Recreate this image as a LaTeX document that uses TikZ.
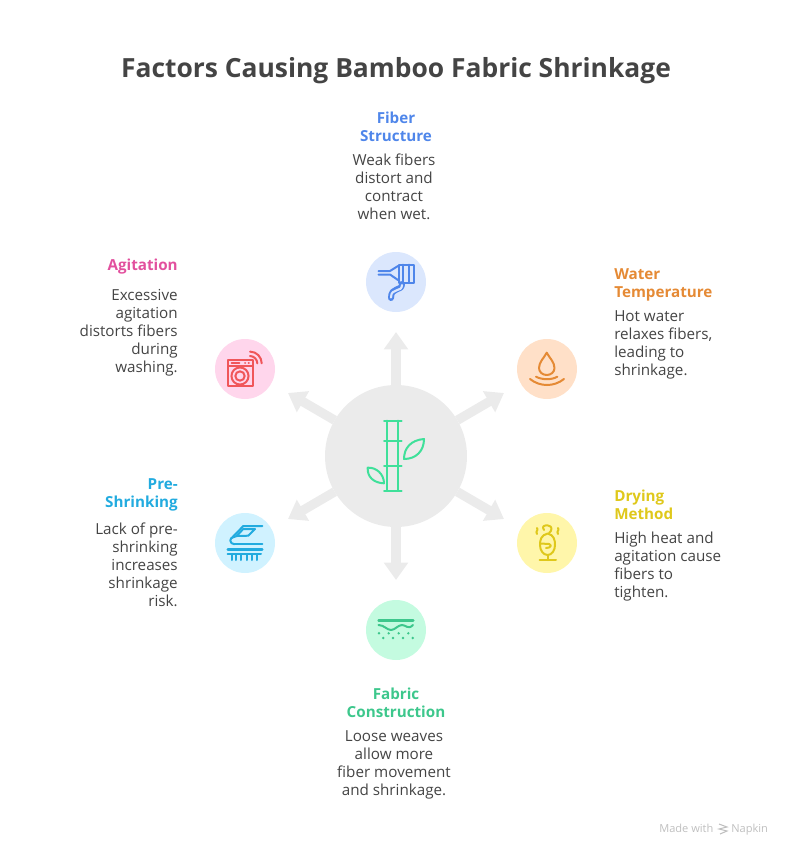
\documentclass[tikz,border=0pt]{standalone}
\usepackage{fontspec}
\setmainfont{Open Sans}
\usetikzlibrary{arrows.meta}
\definecolor{hubgray}{HTML}{EBEBEB}
\definecolor{inkdark}{HTML}{444444}
\definecolor{blueink}{HTML}{4F86EA}
\definecolor{bluefill}{HTML}{DBE7FD}
\definecolor{redink}{HTML}{F0565A}
\definecolor{pinkink}{HTML}{E2509E}
\definecolor{pinkfill}{HTML}{FFD6EC}
\definecolor{orangeink}{HTML}{E58A35}
\definecolor{orangefill}{HTML}{FFE0C8}
\definecolor{cyanink}{HTML}{22ABDF}
\definecolor{cyanfill}{HTML}{D0F2FF}
\definecolor{yellowink}{HTML}{DFC81B}
\definecolor{yellowfill}{HTML}{FFF6AA}
\definecolor{greenink}{HTML}{3DC78C}
\definecolor{greenfill}{HTML}{C4FBE0}
\definecolor{bambooink}{HTML}{3FE09A}
\tikzset{
hub/.style={shape=circle,fill=hubgray,minimum size=106.5pt,inner sep=0pt,outer sep=0pt},
badge/.style={shape=circle,minimum size=45pt,inner sep=0pt,outer sep=0pt},
spoke/.style={draw=hubgray,line width=7pt,-{Triangle[width=17.5pt,length=13pt]}},
icon/.style={line width=1.5pt,line cap=round,line join=round},
headtxt/.style={inner sep=0pt,font=\fontsize{11.4}{13.5}\selectfont\bfseries},
bodytxt/.style={inner sep=0pt,text=inkdark,font=\fontsize{11.4}{13.5}\selectfont}
}
\begin{document}
\begin{tikzpicture}[x=0.75pt,y=-0.75pt]
\useasboundingbox (0,0) rectangle (792,857);
\node [name=title,text=inkdark,inner sep=0pt,font=\fontsize{19.8}{24}\selectfont\bfseries] at (396,71){Factors Causing Bamboo Fabric Shrinkage};
\node [hub,name=h0] at (396,456){};
\node [badge,fill=bluefill,name=p1] at (396,282){};
\node [badge,fill=orangefill,name=p2] at (547,369){};
\node [badge,fill=yellowfill,name=p3] at (547,543){};
\node [badge,fill=greenfill,name=p4] at (396,630){};
\node [badge,fill=cyanfill,name=p5] at (245,543){};
\node [badge,fill=pinkfill,name=p6] at (245,369){};
\coordinate (a1) at (396,332);
\coordinate (a2) at (504,393);
\coordinate (a3) at (504,519);
\coordinate (a4) at (396,580);
\coordinate (a5) at (288,519);
\coordinate (a6) at (288,393);
\draw[spoke] (h0)--(a1);
\draw[spoke] (h0)--(a2);
\draw[spoke] (h0)--(a3);
\draw[spoke] (h0)--(a4);
\draw[spoke] (h0)--(a5);
\draw[spoke] (h0)--(a6);
% texts
\node [headtxt,name=t1,text=blueink,align=center,anchor=north] at (396,112){Fiber\\Structure};
\node [bodytxt,name=b1,align=center,anchor=north] at (394,154){Weak fibers\\distort and\\contract\\when wet.};
\node [headtxt,name=t2,text=orangeink,align=left,anchor=north west] at (614,268){Water\\Temperature};
\node [bodytxt,name=b2,align=left,anchor=north west] at (614,310){Hot water\\relaxes fibers,\\leading to\\shrinkage.};
\node [headtxt,name=t3,text=yellowink,align=left,anchor=north west] at (614,490){Drying\\Method};
\node [bodytxt,name=b3,align=left,anchor=north west] at (614,532){High heat and\\agitation cause\\fibers to\\tighten.};
\node [headtxt,name=t4,text=greenink,align=center,anchor=north] at (396,688){Fabric\\Construction};
\node [bodytxt,name=b4,align=center,anchor=north] at (394,730){Loose weaves\\allow more\\fiber movement\\and shrinkage.};
\node [headtxt,name=t5,text=cyanink,align=right,anchor=north east] at (178,478){Pre-\\Shrinking};
\node [bodytxt,name=b5,align=right,anchor=north east] at (178,523){Lack of pre-\\shrinking\\increases\\shrinkage\\risk.};
\node [headtxt,name=t6,text=pinkink,align=right,anchor=north east] at (178,259){Agitation};
\node [bodytxt,name=b6,align=right,anchor=north east] at (178,289){Excessive\\agitation\\distorts fibers\\during\\washing.};
\node [name=mark,inner sep=0pt,anchor=base west,text=black!25,font=\fontsize{8.3}{10}\selectfont] at (659,832){Made with};
\node [name=brand,inner sep=0pt,anchor=base west,text=black!25,font=\fontsize{8.3}{10}\selectfont] at (731,832){Napkin};
\draw[black!25,line width=0.8pt] (719,824)--(727,827)--(719,829)--(727,831)--(720,834);
% bamboo
\draw[icon,bambooink] (387.3,420.7)--(387.3,490.7);
\draw[icon,bambooink] (398.3,420.7)--(398.3,490.7);
\foreach \y in {420.7,440.7,466.3,490.7}
  \draw[icon,bambooink] (384,\y)--(401.7,\y);
\draw[icon,bambooink] (424,439) .. controls (411,440) and (404,448) .. (404,459) .. controls (416,459) and (424,451) .. (424,439)--cycle;
\draw[icon,bambooink] (367.7,467.7) .. controls (376,467) and (384,474) .. (384,483.3) .. controls (374,483) and (367,477) .. (367.7,467.7)--cycle;
% plug
\begin{scope}[icon,blueink]
\draw (378.5,271)--(390,271)--(398,266);
\draw (378.5,274.5)--(390,274.5)--(398,280);
\draw (398.5,264.5) rectangle (413.5,282.5);
\foreach \x in {403,408.5}
  \draw (\x,264.5)--(\x,282.5);
\draw[line width=4.5pt] (402,284) .. controls (402,292) and (391,286) .. (391,298);
\draw[line width=1.6pt,bluefill] (402,285) .. controls (402,293) and (391,287) .. (391,297.5);
\end{scope}
% drop
\begin{scope}[icon,orangeink]
\draw (546.7,352.7) .. controls (544,358) and (539,362) .. (539,368) .. controls (539,372) and (542.5,375) .. (546.7,375) .. controls (551,375) and (554.5,372) .. (554.5,368) .. controls (554.5,362) and (549.5,358) .. (546.7,352.7)--cycle;
\draw (536,376.7) .. controls (542,380) and (552,380) .. (557.3,376.7);
\draw (530,379) .. controls (540,387) and (554,387) .. (564,379);
\end{scope}
% carrot
\begin{scope}[icon,yellowink]
\draw (547.7,533.5) .. controls (541,535) and (540,540) .. (540,545) .. controls (540,550) and (543,555) .. (547.7,555) .. controls (552,555) and (555,550) .. (555,545) .. controls (555,540) and (554,535) .. (547.7,533.5)--cycle;
\draw (547.7,555)--(547.7,560);
\draw (539.5,560)--(556,560);
\draw (544,530) .. controls (541,526) and (545,525) .. (548,525.5) .. controls (553,526) and (552,531) .. (549,533);
\draw (540.5,543.5)--(549,544);
\draw (549,544) .. controls (552,545) and (551,548) .. (546,548);
\draw (537,528) .. controls (539,530) and (535,531) .. (537,534);
\draw (558,528) .. controls (560,530) and (556,531) .. (558,534);
\end{scope}
% weave
\begin{scope}[icon,greenink]
\draw[line width=1.8pt] (378.5,620.3)--(413.3,620.3);
\draw (378.5,625) .. controls (384,625) and (387,630) .. (391,630) .. controls (395,630) and (398,625) .. (402,625) .. controls (406,625) and (408,630) .. (413,625);
\foreach \x in {379,388.7,398.7,408.3}
  \fill (\x,633.3) circle[radius=1pt];
\foreach \x in {383.3,393,403,412.7}
  \fill (\x,638) circle[radius=1pt];
\end{scope}
% train
\begin{scope}[icon,cyanink]
\draw (262.3,526)--(243.3,526)--(231.7,538);
\draw (234.5,544.3)--(262.3,544.3);
\draw (234.5,544.3) .. controls (229,544) and (229,537) .. (234,537)--(237,536)--(248.3,535.7)--(255,529)--(243.3,529)--(236.7,535.7);
\draw[line width=1.8pt] (227.7,549.3)--(262.3,549.3);
\draw (227.7,554)--(261,554);
\foreach \x in {232.3,235.7,240.7,246.7,252.3,257.3}
  \draw (\x,554)--(\x,560);
\end{scope}
% washer
\begin{scope}[icon,redink]
\draw (228.3,360) rectangle (252.7,386);
\draw (228.3,366)--(252.7,366);
\draw (231.7,362.9)--(239.3,362.9);
\draw (245,362.9)--(245.2,362.9);
\draw (248.7,362.9)--(248.9,362.9);
\draw (240,376) circle[radius=6.4pt];
\draw (240,376) circle[radius=3.5pt];
\draw (250,351.6) .. controls (256.5,351.6) and (261.7,357) .. (261.7,363.3);
\draw (250,356) .. controls (254,356) and (257.3,359.5) .. (257.3,363.3);
\end{scope}
\end{tikzpicture}
\end{document}
